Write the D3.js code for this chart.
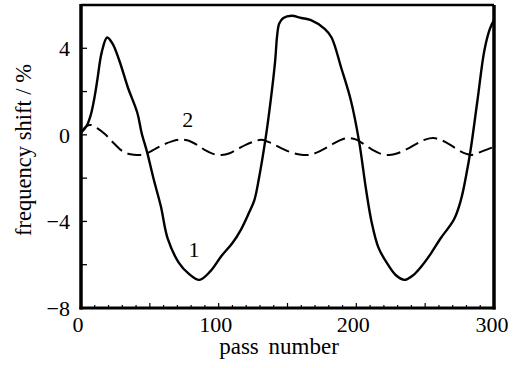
<!doctype html>
<html lang="en">
<head>
  <meta charset="utf-8">
  <title>frequency shift vs pass number</title>
  <script src="https://d3js.org/d3.v7.min.js"></script>
  <style>
    body { margin: 0; background: #fff; }
    text { font-family: "Liberation Serif", "DejaVu Serif", serif; fill: #000; }
  </style>
</head>
<body>
  <div id="chart"></div>
  <script type="text/javascript">
	var width = 514, height = 368;

	//curve 1 (solid) - pass number and frequency shift in %
	var pass1 = [0,4,7,10,12,15,19,23,28,34,41,44,48,53,58,63,71,78,86,94,102,110,116,122,126,129,134,138,141,142.5,144,147,153,160,167,177,182,189,196,202,207,211,216,223,229,235,241,247,254,261,271,276,280,283,288,293,297,300];
	var shift1 = [0.1,0.4,0.9,1.8,2.6,3.8,4.5,4.2,3.4,2.2,1.0,0.1,-0.8,-2.1,-3.3,-4.8,-5.9,-6.4,-6.7,-6.3,-5.6,-5.0,-4.4,-3.6,-3.0,-2.1,-0.2,1.7,3.4,4.6,5.15,5.4,5.5,5.4,5.3,4.9,4.5,3.1,1.6,-0.3,-2.5,-4.0,-5.2,-6.0,-6.5,-6.7,-6.5,-6.1,-5.5,-4.8,-3.9,-3.0,-1.8,-0.7,1.6,3.9,4.9,5.3];

	//curve 2 (dashed)
	var pass2 = [0,4,7,12,18,24,30,36,42,48,54,60,66,72,77,84,90,96,102,108,114,120,126,131,137,145,153,160,166,172,178,184,190,195,200,206,212,218,224,230,237,244,250,256,262,268,274,280,284,290,296,300];
	var shift2 = [0.1,0.4,0.46,0.3,0,-0.4,-0.75,-0.9,-0.93,-0.85,-0.65,-0.45,-0.3,-0.22,-0.25,-0.45,-0.7,-0.88,-0.93,-0.85,-0.65,-0.45,-0.3,-0.23,-0.35,-0.6,-0.82,-0.92,-0.92,-0.8,-0.6,-0.38,-0.2,-0.15,-0.22,-0.45,-0.7,-0.88,-0.93,-0.85,-0.65,-0.4,-0.22,-0.15,-0.25,-0.45,-0.7,-0.88,-0.93,-0.8,-0.65,-0.55];

	var xTickLabels = [0, 100, 200, 300];
	var yTickLabels = [4, 0, -4, -8];

	var x = d3.scaleLinear().domain([0, 300]).range([81, 494]);
	var y = d3.scaleLinear().domain([-8, 6]).range([308, 5]);

	var svg = d3.select('#chart')
				.append('svg')
				.attr('width', width)
				.attr('height', height);

	//minor ticks on the bottom, pointing in
	svg.append('g')
		.selectAll('line')
		.data(d3.range(0, 301, 10))
		.enter()
		.append('line')
		.attr('x1', function(d) { return x(d); })
		.attr('x2', function(d) { return x(d); })
		.attr('y1', y(-8))
		.attr('y2', function(d) { return y(-8) - (d % 50 === 0 ? 5 : 3); })
		.attr('stroke', '#000')
		.attr('stroke-width', 1.2);

	//ticks on the left, every 2 %
	svg.append('g')
		.selectAll('line')
		.data(d3.range(-8, 6.1, 2))
		.enter()
		.append('line')
		.attr('x1', x(0))
		.attr('x2', x(0) + 6)
		.attr('y1', function(d) { return y(d); })
		.attr('y2', function(d) { return y(d); })
		.attr('stroke', '#000')
		.attr('stroke-width', 1.3);

	//frame
	svg.append('line').attr('x1', x(0)).attr('x2', x(300)).attr('y1', y(6)).attr('y2', y(6))
		.attr('stroke', '#000').attr('stroke-width', 2.5);
	svg.append('line').attr('x1', x(300)).attr('x2', x(300)).attr('y1', y(6)).attr('y2', y(-8) + 1.5)
		.attr('stroke', '#000').attr('stroke-width', 3.5);
	svg.append('line').attr('x1', x(0)).attr('x2', x(0)).attr('y1', y(6) - 1).attr('y2', y(-8) + 1.5)
		.attr('stroke', '#000').attr('stroke-width', 3.5);
	svg.append('line').attr('x1', x(0) - 1.5).attr('x2', x(300) + 1.5).attr('y1', y(-8)).attr('y2', y(-8))
		.attr('stroke', '#000').attr('stroke-width', 3);

	//tick labels
	svg.append('g')
		.selectAll('text')
		.data(xTickLabels)
		.enter()
		.append('text')
		.attr('x', function(d) { return x(d) - (d === 300 ? 2 : 3); })
		.attr('y', 332)
		.attr('text-anchor', 'middle')
		.style('font-size', '22px')
		.text(function(d) { return d; });

	svg.append('g')
		.selectAll('text')
		.data(yTickLabels)
		.enter()
		.append('text')
		.attr('x', 70)
		.attr('y', function(d) { return y(d) + 8; })
		.attr('text-anchor', 'end')
		.style('font-size', '22px')
		.text(function(d) { return d < 0 ? '\u2212' + Math.abs(d) : d; });

	//axis titles
	svg.append('text')
		.attr('x', 279)
		.attr('y', 354)
		.attr('text-anchor', 'middle')
		.style('font-size', '23px')
		.style('word-spacing', '4px')
		.text('pass number');

	svg.append('text')
		.attr('transform', 'translate(31,150) rotate(-90)')
		.attr('text-anchor', 'middle')
		.style('font-size', '22.5px')
		.text('frequency shift / %');

	//the two curves
	var line = d3.line()
				.x(function(d) { return x(d[0]); })
				.y(function(d) { return y(d[1]); })
				.curve(d3.curveCatmullRom.alpha(0.5));

	svg.append('path')
		.datum(d3.zip(pass1, shift1))
		.attr('d', line)
		.attr('fill', 'none')
		.attr('stroke', '#000')
		.attr('stroke-width', 2.4);

	svg.append('path')
		.datum(d3.zip(pass2, shift2))
		.attr('d', line)
		.attr('fill', 'none')
		.attr('stroke', '#000')
		.attr('stroke-width', 2)
		.attr('stroke-dasharray', '14,6');

	//curve labels
	svg.append('text')
		.attr('x', x(82)).attr('y', y(-5.66))
		.attr('text-anchor', 'middle')
		.style('font-size', '22px')
		.text('1');

	svg.append('text')
		.attr('x', x(77.5)).attr('y', y(0.37))
		.attr('text-anchor', 'middle')
		.style('font-size', '22px')
		.text('2');
  </script>
</body>
</html>
